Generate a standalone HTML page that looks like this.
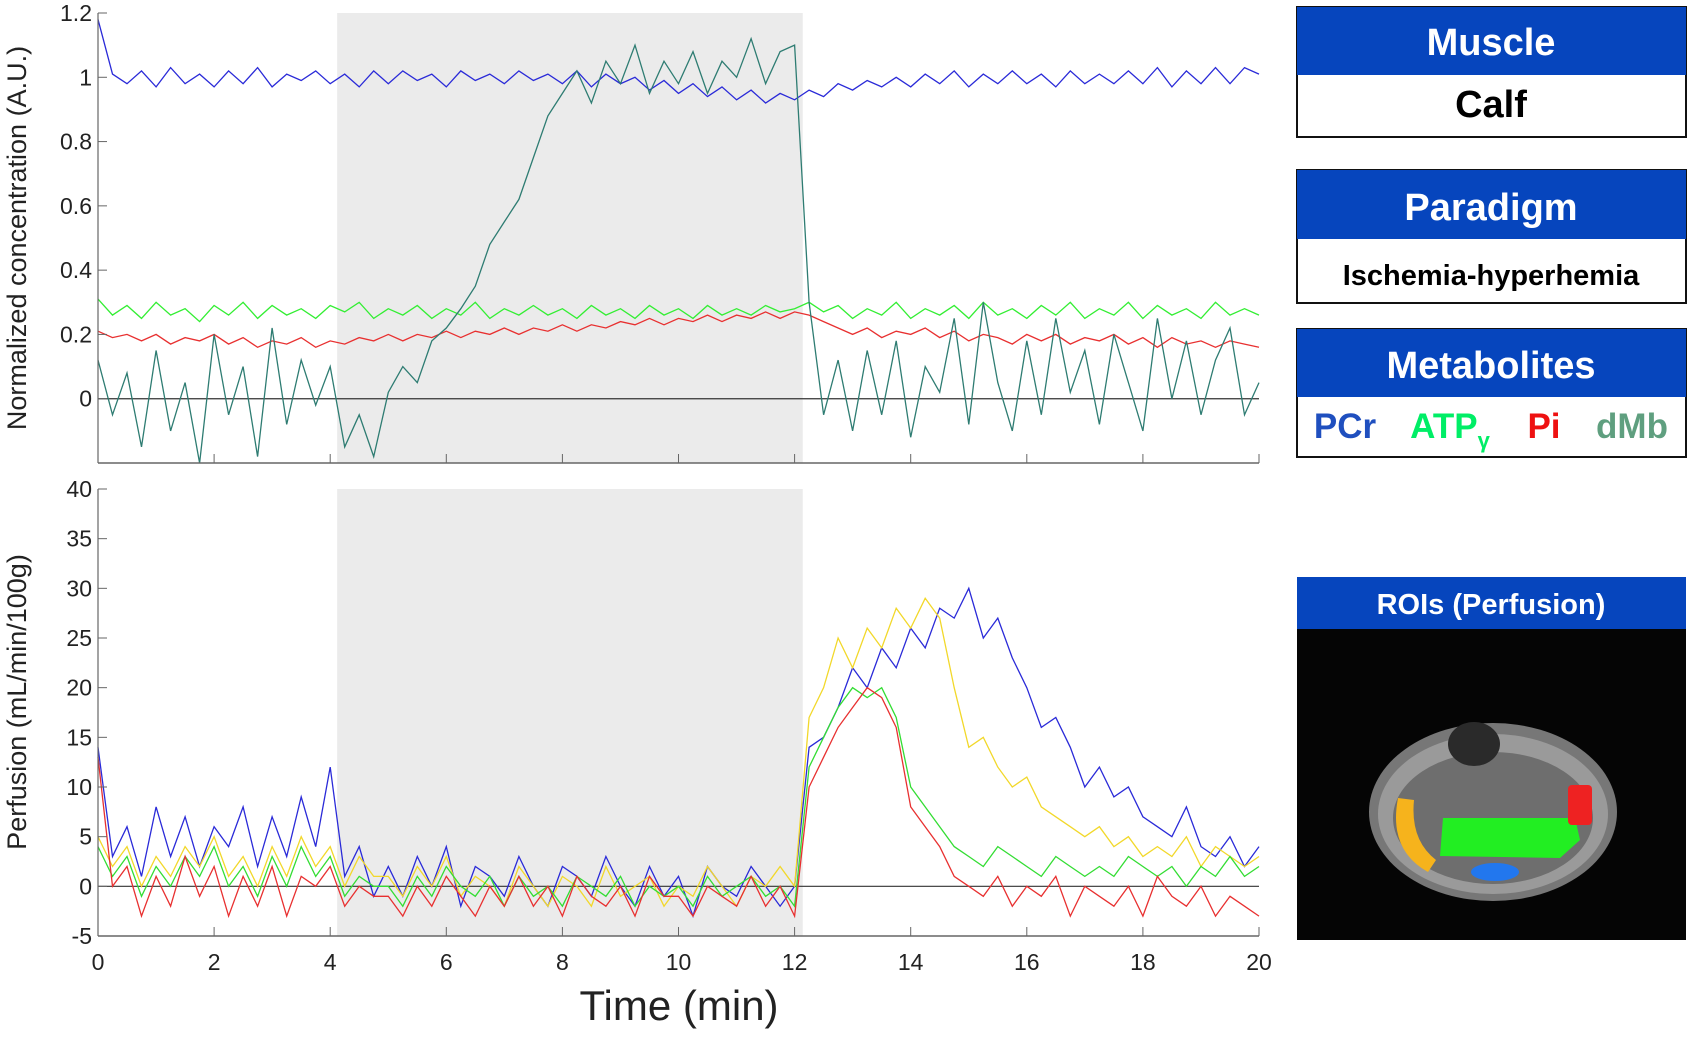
<!DOCTYPE html>
<html><head><meta charset="utf-8"><style>
body{margin:0;background:#fff;}
svg{display:block;}
.tk{font-family:"Liberation Sans Narrow","Liberation Sans",sans-serif;font-size:23px;fill:#222;}
.bx{font-family:"Liberation Sans",sans-serif;font-weight:bold;}
</style></head><body>
<svg id="fig" width="1695" height="1046" viewBox="0 0 1695 1046" xmlns="http://www.w3.org/2000/svg">
<g id="top"></g>
<g id="bot"></g>
<text x="26" y="238" transform="rotate(-90 26 238)" text-anchor="middle" class="tk" style="font-size:27px">Normalized  concentration  (A.U.)</text>
<text x="26" y="702" transform="rotate(-90 26 702)" text-anchor="middle" class="tk" style="font-size:27px">Perfusion  (mL/min/100g)</text>
<text x="679" y="1020" text-anchor="middle" class="tk" style="font-size:42px">Time (min)</text>

<g>
<rect x="1297" y="7" width="389" height="130" fill="#fff" stroke="#111" stroke-width="2"/>
<rect x="1297" y="7" width="389" height="68" fill="#0645bd"/>
<text x="1491" y="55" text-anchor="middle" class="bx" font-size="38" fill="#fff">Muscle</text>
<text x="1491" y="117" text-anchor="middle" class="bx" font-size="38" fill="#000">Calf</text>
</g>
<g>
<rect x="1297" y="170" width="389" height="133" fill="#fff" stroke="#111" stroke-width="2"/>
<rect x="1297" y="170" width="389" height="69" fill="#0645bd"/>
<text x="1491" y="220" text-anchor="middle" class="bx" font-size="38" fill="#fff">Paradigm</text>
<text x="1491" y="285" text-anchor="middle" class="bx" font-size="29" fill="#000">Ischemia-hyperhemia</text>
</g>
<g>
<rect x="1297" y="329" width="389" height="128" fill="#fff" stroke="#111" stroke-width="2"/>
<rect x="1297" y="329" width="389" height="68" fill="#0645bd"/>
<text x="1491" y="378" text-anchor="middle" class="bx" font-size="38" fill="#fff">Metabolites</text>
<text x="1345" y="438" text-anchor="middle" class="bx" font-size="35" fill="#1f4fbf">PCr</text>
<text x="1450" y="438" text-anchor="middle" class="bx" font-size="35" fill="#00ee66">ATP<tspan font-size="22" dy="10">γ</tspan></text>
<text x="1544" y="438" text-anchor="middle" class="bx" font-size="35" fill="#ee1111">Pi</text>
<text x="1632" y="438" text-anchor="middle" class="bx" font-size="35" fill="#5f9f7f">dMb</text>
</g>
<g>
<rect x="1297" y="577" width="389" height="363" fill="#050505"/>
<rect x="1297" y="577" width="389" height="52" fill="#0645bd"/>
<text x="1491" y="614" text-anchor="middle" class="bx" font-size="29" fill="#fff">ROIs (Perfusion)</text>
<ellipse cx="1493" cy="812" rx="124" ry="89" fill="#777"/>
<ellipse cx="1493" cy="814" rx="115" ry="80" fill="#9a9a9a"/>
<ellipse cx="1493" cy="818" rx="100" ry="66" fill="#6e6e6e"/>
<ellipse cx="1474" cy="744" rx="26" ry="22" fill="#2a2a2a"/>
<path d="M1398 798 Q1388 850 1428 872 L1436 860 Q1410 840 1414 800 Z" fill="#f6b31c"/>
<path d="M1443 818 L1575 818 L1580 840 L1560 858 L1440 856 Z" fill="#22ee22"/>
<ellipse cx="1495" cy="872" rx="24" ry="9" fill="#2277ee"/>
<rect x="1568" y="785" width="24" height="40" rx="4" fill="#ee2222"/>
</g>
</svg>
<script>
// ---- data ----
const times = [];
for (let i = 0; i <= 80; i++) times.push(i * 0.25);
const pcr = [1.18,1.01,0.98,1.02,0.97,1.03,0.98,1.01,0.97,1.02,0.98,1.03,0.97,1.01,0.99,1.02,0.98,1.01,0.97,1.02,0.98,1.02,0.99,1.01,0.97,1.02,0.99,1.01,0.98,1.02,0.99,1.01,0.98,1.02,0.97,1.01,0.98,1.0,0.96,0.99,0.95,0.98,0.94,0.97,0.93,0.96,0.92,0.95,0.93,0.96,0.94,0.98,0.96,0.99,0.97,1.0,0.97,1.01,0.98,1.02,0.97,1.01,0.98,1.02,0.98,1.01,0.97,1.02,0.98,1.01,0.98,1.02,0.98,1.03,0.97,1.02,0.98,1.03,0.98,1.03,1.01];
const atp = [0.31,0.26,0.29,0.25,0.3,0.26,0.28,0.24,0.29,0.26,0.3,0.25,0.29,0.26,0.28,0.25,0.29,0.27,0.3,0.25,0.28,0.26,0.29,0.25,0.28,0.26,0.3,0.25,0.28,0.26,0.29,0.26,0.28,0.25,0.29,0.26,0.28,0.25,0.29,0.26,0.28,0.25,0.29,0.26,0.28,0.26,0.29,0.27,0.28,0.3,0.27,0.29,0.25,0.28,0.26,0.3,0.25,0.28,0.26,0.29,0.25,0.3,0.26,0.28,0.25,0.29,0.26,0.3,0.25,0.28,0.26,0.3,0.25,0.29,0.26,0.28,0.25,0.3,0.26,0.28,0.26];
const pi = [0.21,0.19,0.2,0.18,0.2,0.17,0.19,0.18,0.2,0.17,0.19,0.16,0.18,0.17,0.19,0.16,0.18,0.17,0.19,0.18,0.2,0.18,0.2,0.19,0.21,0.19,0.21,0.2,0.22,0.2,0.22,0.21,0.23,0.21,0.23,0.22,0.24,0.23,0.25,0.23,0.25,0.24,0.26,0.24,0.26,0.25,0.27,0.25,0.27,0.26,0.24,0.22,0.2,0.22,0.19,0.21,0.2,0.22,0.19,0.21,0.18,0.2,0.19,0.17,0.2,0.18,0.2,0.17,0.19,0.18,0.2,0.17,0.19,0.16,0.19,0.17,0.18,0.16,0.18,0.17,0.16];
const dmb = [0.12,-0.05,0.08,-0.15,0.15,-0.1,0.05,-0.2,0.2,-0.05,0.1,-0.18,0.22,-0.08,0.12,-0.02,0.1,-0.15,-0.05,-0.18,0.02,0.1,0.05,0.18,0.22,0.28,0.35,0.48,0.55,0.62,0.75,0.88,0.95,1.02,0.92,1.05,0.98,1.1,0.95,1.05,0.98,1.08,0.95,1.05,1.0,1.12,0.98,1.08,1.1,0.3,-0.05,0.12,-0.1,0.15,-0.05,0.18,-0.12,0.1,0.02,0.25,-0.08,0.3,0.05,-0.1,0.18,-0.05,0.25,0.02,0.15,-0.08,0.2,0.05,-0.1,0.25,0.0,0.18,-0.05,0.12,0.22,-0.05,0.05];
const perfBlue = [14,3,6,1,8,3,7,2,6,4,8,2,7,3,9,4,12,1,4,-1,2,-1,3,0,4,-2,2,1,-1,3,0,-2,2,1,-1,3,0,-2,2,-1,1,-3,2,0,-1,2,0,-2,0,14,15,18,22,20,24,22,26,24,28,27,30,25,27,23,20,16,17,14,10,12,9,10,7,6,5,8,4,3,5,2,4];
const perfYellow = [5,2,4,0,3,1,4,2,5,1,3,0,4,1,5,2,4,0,3,1,1,-1,2,0,3,-1,1,0,-2,2,0,-2,1,0,-2,2,-1,0,1,-2,0,-1,2,0,-2,1,0,2,0,17,20,25,22,26,24,28,26,29,27,20,14,15,12,10,11,8,7,6,5,6,4,5,3,4,3,5,2,4,3,2,3];
const perfGreen = [4,1,3,-1,2,0,3,1,4,0,2,-1,3,0,4,1,3,-1,1,0,0,-2,1,-1,2,0,-1,1,-2,1,-1,0,-2,1,0,-1,1,-2,0,-1,0,-2,1,-1,0,1,-1,0,-2,12,15,18,20,19,20,17,10,8,6,4,3,2,4,3,2,1,3,2,1,2,1,3,2,1,2,0,2,1,3,1,2];
const perfRed = [13,0,2,-3,1,-2,3,-1,2,-3,1,-2,2,-3,1,0,2,-2,0,-1,-1,-3,0,-2,1,-1,-3,0,-2,1,-2,0,-3,1,-1,-2,0,-3,1,-1,-1,-3,0,-1,-2,1,-2,0,-3,10,13,16,18,20,19,16,8,6,4,1,0,-1,1,-2,0,-1,1,-3,0,-1,-2,0,-3,1,-1,-2,0,-3,-1,-2,-3];
const xTicks = [0,2,4,6,8,10,12,14,16,18,20];
const topYTicks = [0,0.2,0.4,0.6,0.8,1,1.2];
const topYLabels = ["0","0.2","0.4","0.6","0.8","1","1.2"];
const botYTicks = [-5,0,5,10,15,20,25,30,35,40];
const shade = [4.12, 12.14];

const NS = "http://www.w3.org/2000/svg";
const X0 = 98, X1 = 1259;
const xs = t => X0 + (t / 20) * (X1 - X0);
function mk(parent, tag, attrs) {
  const e = document.createElementNS(NS, tag);
  for (const k in attrs) e.setAttribute(k, attrs[k]);
  parent.appendChild(e);
  return e;
}
function panel(g, ymin, ymax, yTop, yBot, yticks, ylabels, showX, series, prefix) {
  const ys = v => yBot - (v - ymin) / (ymax - ymin) * (yBot - yTop);
  const r = mk(g, "rect", {x: xs(shade[0]), y: yTop, width: xs(shade[1]) - xs(shade[0]), height: yBot - yTop, fill: "#ebebeb"});
  
  
  const z = mk(g, "line", {x1: X0, x2: X1, y1: ys(0), y2: ys(0), stroke: "#333", "stroke-width": 1.2});
  
  
  series.forEach(s => {
    const d = s.vals.map((v, i) => (i ? "L" : "M") + xs(times[i]).toFixed(1) + " " + ys(v).toFixed(1)).join(" ");
    const p = mk(g, "path", {d: d, fill: "none", stroke: s.color, "stroke-width": 1.3});
    
    
  });
  mk(g, "line", {x1: X0, x2: X0, y1: yTop, y2: yBot, stroke: "#666", "stroke-width": 1.2});
  mk(g, "line", {x1: X0, x2: X1, y1: yBot, y2: yBot, stroke: "#666", "stroke-width": 1.5});
  yticks.forEach((v, i) => {
    mk(g, "line", {x1: X0, x2: X0 + 9, y1: ys(v), y2: ys(v), stroke: "#666"});
    const t = mk(g, "text", {x: X0 - 6, y: ys(v) + 8, "text-anchor": "end", class: "tk"});
    t.textContent = ylabels[i];
    
    
  });
  xTicks.forEach(v => {
    mk(g, "line", {x1: xs(v), x2: xs(v), y1: yBot, y2: yBot - 9, stroke: "#666"});
    if (showX) {
      const t = mk(g, "text", {x: xs(v), y: yBot + 34, "text-anchor": "middle", class: "tk"});
      t.textContent = v;
      
      
    }
  });
}
panel(document.getElementById("top"), -0.2, 1.2, 13, 463, topYTicks, topYLabels, false, [
  {name: "pcr", vals: pcr, color: "#2a2ad8"},
  {name: "atp", vals: atp, color: "#33ee33"},
  {name: "pi", vals: pi, color: "#e83030"},
  {name: "dmb", vals: dmb, color: "#2e7c72"}
], "top");
panel(document.getElementById("bot"), -5, 40, 489, 936, botYTicks, botYTicks.map(String), true, [
  {name: "blue-roi", vals: perfBlue, color: "#2a2ad8"},
  {name: "yellow-roi", vals: perfYellow, color: "#f2d82a"},
  {name: "green-roi", vals: perfGreen, color: "#33dd33"},
  {name: "red-roi", vals: perfRed, color: "#e83030"}
], "bottom");
</script>
</body></html>
